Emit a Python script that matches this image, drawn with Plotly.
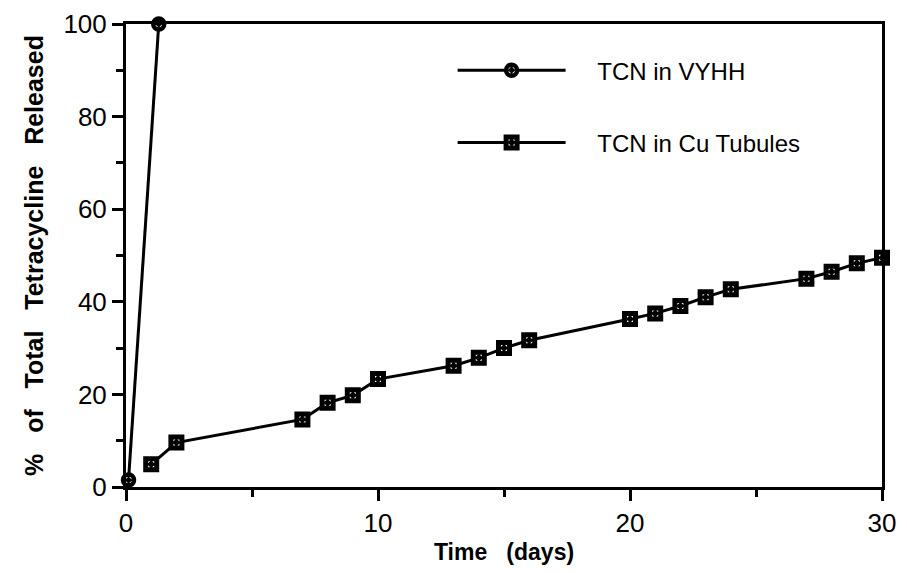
import plotly.graph_objects as go

# Data
vyhh_days = [0.1, 1.3]
vyhh_pct = [1.5, 100]

cu_days = [1, 2, 7, 8, 9, 10, 13, 14, 15, 16, 20, 21, 22, 23, 24, 27, 28, 29, 30]
cu_pct = [4.9, 9.6, 14.6, 18.2, 19.8, 23.3, 26.2, 27.9, 30.0, 31.7,
          36.3, 37.5, 39.1, 41.0, 42.7, 45.0, 46.5, 48.3, 49.5]

x_ticks = [0, 10, 20, 30]
y_ticks = [0, 20, 40, 60, 80, 100]

FONT = "Liberation Sans, Arial, Helvetica, sans-serif"
NB = "\u00a0"

fig = go.Figure()
fig.add_trace(go.Scatter(
    x=vyhh_days, y=vyhh_pct, mode="lines+markers", name=NB * 4 + "TCN in VYHH",
    legendgroup="a",
    line=dict(color="black", width=3),
    marker=dict(symbol="circle-dot", size=11, color="white",
                line=dict(color="black", width=4.5)),
    cliponaxis=False,
))
fig.add_trace(go.Scatter(
    x=cu_days, y=cu_pct, mode="lines+markers", name=NB * 4 + "TCN in Cu Tubules",
    legendgroup="b",
    line=dict(color="black", width=3),
    marker=dict(symbol="square-dot", size=11, color="white",
                line=dict(color="black", width=5)),
    cliponaxis=False,
))

axis_common = dict(
    showline=True, linecolor="black", linewidth=3, mirror=True,
    ticks="outside", ticklen=11, tickwidth=2.5, tickcolor="black",
    showgrid=False, zeroline=False, automargin=False,
    ticklabeloverflow="allow",
    tickfont=dict(family=FONT, size=26, color="black"),
)

fig.update_xaxes(
    range=[0, 30], tickvals=x_ticks, ticktext=[str(v) for v in x_ticks],
    minor=dict(dtick=5, tick0=0, ticks="outside", ticklen=7, tickwidth=2.5,
               tickcolor="black"),
    title=dict(text="Time" + NB * 3 + "(days)",
               font=dict(family=FONT, size=23, color="black", weight="bold"),
               standoff=11),
    **axis_common,
)
fig.update_yaxes(
    range=[0, 100], tickvals=y_ticks, ticktext=[str(v) for v in y_ticks],
    minor=dict(dtick=10, tick0=0, ticks="outside", ticklen=7, tickwidth=2.5,
               tickcolor="black"),
    title=dict(text=("%" + NB * 3 + "of" + NB * 3 + "Total" + NB * 3 +
                     "Tetracycline" + NB * 3 + "Released"),
               font=dict(family=FONT, size=25, color="black", weight="bold"),
               standoff=13),
    **axis_common,
)

fig.update_layout(
    width=891, height=557,
    margin=dict(l=118, r=16.5, t=15.5, b=77.5),
    paper_bgcolor="white", plot_bgcolor="white",
    showlegend=True,
    legend=dict(
        x=0.432, y=0.948, xanchor="left", yanchor="top",
        font=dict(family=FONT, size=24, color="black"),
        bgcolor="rgba(0,0,0,0)", itemwidth=108, tracegroupgap=38,
    ),
)

fig.write_html("out.html")
